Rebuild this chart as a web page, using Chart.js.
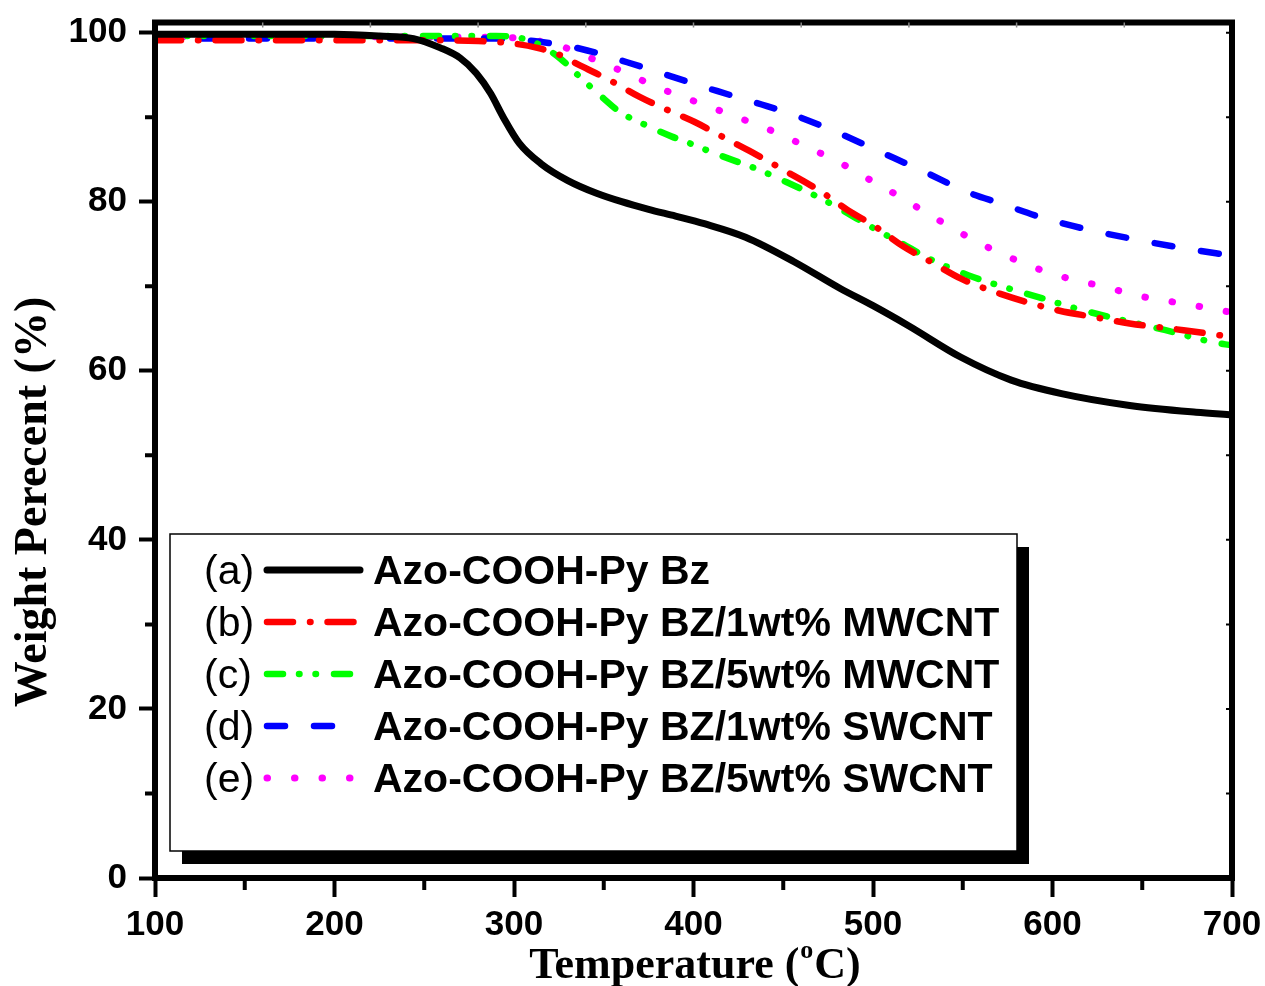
<!DOCTYPE html>
<html>
<head>
<meta charset="utf-8">
<script src="https://cdn.jsdelivr.net/npm/chart.js@4.4.1/dist/chart.umd.min.js"></script>
<style>
  html, body { margin: 0; padding: 0; background: #fff; }
  #wrap { width: 1265px; height: 986px; }
</style>
</head>
<body>
<div id="wrap"><canvas id="tgaChart"></canvas></div>
<script>
// TGA curves: temperature (°C) vs weight (%)
const tempA   = [100, 150, 200, 225, 244, 259, 270, 279, 287, 294, 303, 315, 330, 346, 360, 375, 390, 406, 429, 456, 482, 500, 520, 549, 577, 605, 643, 680, 700];
const weightA = [99.8, 99.8, 99.8, 99.6, 99.3, 98.2, 97.0, 95.2, 92.8, 90.0, 86.9, 84.5, 82.5, 81.0, 80.0, 79.1, 78.3, 77.4, 75.8, 72.9, 69.7, 67.7, 65.3, 61.6, 58.9, 57.3, 55.9, 55.1, 54.8];

const tempB   = [100, 150, 200, 250, 280, 300, 313, 324, 337, 354, 370, 385, 401, 416, 433, 454, 471, 486, 501, 517, 533, 549, 571, 604, 622, 643, 673, 700];
const weightB = [99.1, 99.1, 99.1, 99.1, 99.0, 98.7, 98.2, 97.5, 96.1, 94.3, 92.4, 90.9, 89.4, 87.7, 85.8, 83.3, 81.2, 79.0, 77.1, 74.7, 72.8, 70.9, 69.1, 67.1, 66.4, 65.6, 64.8, 64.0];

const tempC   = [100, 150, 200, 250, 290, 300, 313, 326, 337, 350, 359, 372, 388, 398, 412, 426, 435, 452, 468, 478, 491, 506, 515, 530, 553, 570, 594, 611, 635, 663, 689, 700];
const weightC = [99.6, 99.6, 99.6, 99.6, 99.6, 99.5, 98.7, 96.9, 94.7, 92.2, 90.6, 89.2, 87.7, 86.9, 85.7, 84.6, 83.9, 82.3, 80.7, 79.6, 78.0, 76.2, 75.2, 73.4, 71.3, 70.1, 68.6, 67.5, 66.2, 64.8, 63.4, 63.0];

const tempD   = [100, 150, 200, 250, 290, 311, 337, 363, 388, 413, 438, 454, 479, 504, 529, 553, 571, 596, 622, 647, 673, 700];
const weightD = [99.3, 99.3, 99.3, 99.3, 99.3, 99.0, 98.1, 96.5, 94.8, 93.1, 91.5, 90.4, 88.3, 85.9, 83.5, 81.1, 79.8, 78.0, 76.6, 75.5, 74.5, 73.6];

const tempE   = [100, 150, 200, 250, 300, 324, 333, 348, 363, 378, 394, 408, 423, 438, 450, 465, 480, 494, 510, 525, 540, 555, 568, 583, 598, 613, 630, 645, 660, 677, 700];
const weightE = [99.5, 99.5, 99.5, 99.5, 99.4, 98.5, 97.9, 96.5, 95.2, 93.7, 92.4, 91.3, 90.1, 88.9, 87.8, 86.3, 84.8, 83.1, 81.2, 79.3, 77.4, 75.6, 74.2, 72.8, 71.6, 70.7, 69.9, 69.0, 68.4, 67.8, 66.9];

const seriesTags  = ["(a)", "(b)", "(c)", "(d)", "(e)"];
const seriesNames = [
  "Azo-COOH-Py Bz",
  "Azo-COOH-Py BZ/1wt% MWCNT",
  "Azo-COOH-Py BZ/5wt% MWCNT",
  "Azo-COOH-Py BZ/1wt% SWCNT",
  "Azo-COOH-Py BZ/5wt% SWCNT"
];
const xTicks = [100, 200, 300, 400, 500, 600, 700];
const yTicks = [0, 20, 40, 60, 80, 100];
const xMinorTicks = [150, 250, 350, 450, 550, 650];
const yMinorTicks = [10, 30, 50, 70, 90];

const lineStyles = [
  { color: "#000000", dash: [], width: 7 },
  { color: "#ff0000", dash: [26, 17, 0.5, 17], width: 6.5 },
  { color: "#00ff00", dash: [16, 16, 0.5, 16, 0.5, 18], width: 6.5 },
  { color: "#0000ff", dash: [18, 29], width: 6.5 },
  { color: "#ff00ff", dash: [0.5, 27], width: 7 }
];

function toPoints(t, w) {
  return t.map((x, i) => ({ x: x, y: w[i] }));
}

const allSeries = [
  toPoints(tempA, weightA),
  toPoints(tempB, weightB),
  toPoints(tempC, weightC),
  toPoints(tempD, weightD),
  toPoints(tempE, weightE)
];

// frame, minor ticks and axis titles
const framePlugin = {
  id: "frame",
  afterDraw(chart) {
    const ctx = chart.ctx;
    const a = chart.chartArea;
    const xs = chart.scales.x, ys = chart.scales.y;
    ctx.save();
    ctx.strokeStyle = "#000";
    ctx.lineWidth = 6;
    ctx.lineJoin = "miter";
    ctx.strokeRect(a.left, a.top, a.right - a.left, a.bottom - a.top);

    ctx.lineWidth = 4;
    ctx.beginPath();
    yMinorTicks.forEach(v => {
      const y = ys.getPixelForValue(v);
      ctx.moveTo(a.left - 10, y); ctx.lineTo(a.left, y);
    });
    xMinorTicks.forEach(v => {
      const x = xs.getPixelForValue(v);
      ctx.moveTo(x, a.bottom); ctx.lineTo(x, a.bottom + 12);
    });
    ctx.stroke();

    // small inward ticks on right and top
    ctx.lineWidth = 2;
    ctx.beginPath();
    for (let v = 10; v <= 100; v += 10) {
      const y = ys.getPixelForValue(v);
      ctx.moveTo(a.right - 6, y); ctx.lineTo(a.right, y);
    }
    ctx.stroke();
    ctx.strokeStyle = "#888";
    ctx.lineWidth = 1.5;
    ctx.beginPath();
    for (let v = 160; v < 700; v += 60) {
      const x = xs.getPixelForValue(v);
      ctx.moveTo(x, a.top); ctx.lineTo(x, a.top + 5);
    }
    ctx.stroke();

    // axis titles
    ctx.fillStyle = "#000";
    ctx.font = "bold 46px 'Liberation Serif', 'Times New Roman', serif";
    ctx.textAlign = "center";
    ctx.textBaseline = "alphabetic";
    ctx.save();
    ctx.translate(46, 502);
    ctx.rotate(-Math.PI / 2);
    ctx.fillText("Weight Perecent (%)", 0, 0);
    ctx.restore();

    const f = "bold 44px 'Liberation Serif', 'Times New Roman', serif";
    const fs = "bold 26px 'Liberation Serif', 'Times New Roman', serif";
    ctx.font = f;
    const p1 = "Temperature (", p3 = "C)";
    const w1 = ctx.measureText(p1).width, w3 = ctx.measureText(p3).width;
    ctx.font = fs;
    const w2 = ctx.measureText("o").width + 2;
    const startX = 695 - (w1 + w2 + w3) / 2;
    const base = 978;
    ctx.textAlign = "left";
    ctx.font = f;
    ctx.fillText(p1, startX, base);
    ctx.font = fs;
    ctx.fillText("o", startX + w1 + 1, base - 20);
    ctx.font = f;
    ctx.fillText(p3, startX + w1 + w2, base);
    ctx.restore();
  }
};

// boxed legend with drop shadow
const legendPlugin = {
  id: "boxLegend",
  afterDraw(chart) {
    const ctx = chart.ctx;
    const box = { left: 170, top: 534, right: 1017, bottom: 851 };
    const w = box.right - box.left, h = box.bottom - box.top;
    ctx.save();
    ctx.fillStyle = "#000";
    ctx.fillRect(box.left + 12, box.top + 13, w, h);
    ctx.fillStyle = "#fff";
    ctx.fillRect(box.left, box.top, w, h);
    ctx.strokeStyle = "#000";
    ctx.lineWidth = 1.5;
    ctx.strokeRect(box.left, box.top, w, h);

    chart.data.datasets.forEach((ds, i) => {
      const y = 570 + i * 52;
      ctx.fillStyle = "#000";
      ctx.textBaseline = "alphabetic";
      ctx.textAlign = "left";
      ctx.font = "41px 'Liberation Sans', Arial, sans-serif";
      ctx.fillText(seriesTags[i], 204, y + 14);
      ctx.font = "bold 41px 'Liberation Sans', Arial, sans-serif";
      ctx.fillText(ds.label, 373, y + 14);

      ctx.strokeStyle = ds.borderColor;
      ctx.lineWidth = ds.borderWidth;
      ctx.lineCap = "round";
      ctx.setLineDash(ds.borderDash);
      ctx.beginPath();
      ctx.moveTo(267, y);
      ctx.lineTo(360, y);
      ctx.stroke();
      ctx.setLineDash([]);
    });
    ctx.restore();
  }
};

const xTickFont = { family: "'Liberation Sans', Arial, sans-serif", size: 35, weight: "bold", lineHeight: 1.5 };
const yTickFont = { family: "'Liberation Sans', Arial, sans-serif", size: 35, weight: "bold", lineHeight: 0.6 };

new Chart(document.getElementById("tgaChart"), {
  type: "line",
  data: {
    datasets: allSeries.map((pts, i) => ({
      label: seriesNames[i],
      data: pts,
      borderColor: lineStyles[i].color,
      backgroundColor: lineStyles[i].color,
      borderWidth: lineStyles[i].width,
      borderDash: lineStyles[i].dash,
      borderCapStyle: "round",
      borderJoinStyle: "round",
      cubicInterpolationMode: "monotone",
      pointRadius: 0,
      fill: false
    }))
  },
  options: {
    responsive: true,
    maintainAspectRatio: false,
    animation: false,
    layout: { padding: { left: 0, top: 22, right: 33, bottom: 0 } },
    plugins: { legend: { display: false }, tooltip: { enabled: false } },
    scales: {
      x: {
        type: "linear",
        min: 100,
        max: 700,
        afterBuildTicks: s => { s.ticks = xTicks.map(v => ({ value: v })); },
        afterFit: s => { s.height = 108; },
        ticks: { color: "#000", font: xTickFont, padding: 2, maxRotation: 0 },
        grid: { drawOnChartArea: false, drawTicks: true, tickLength: 19, tickWidth: 4, tickColor: "#000" },
        border: { display: true, width: 5, color: "#000" }
      },
      y: {
        type: "linear",
        min: 0,
        max: 101.2,
        afterBuildTicks: s => { s.ticks = yTicks.map(v => ({ value: v })); },
        afterFit: s => { s.width = 155; },
        ticks: { color: "#000", font: yTickFont, padding: 12 },
        grid: { drawOnChartArea: false, drawTicks: true, tickLength: 16, tickWidth: 4, tickColor: "#000" },
        border: { display: true, width: 5, color: "#000" }
      }
    }
  },
  plugins: [framePlugin, legendPlugin]
});
</script>
</body>
</html>
